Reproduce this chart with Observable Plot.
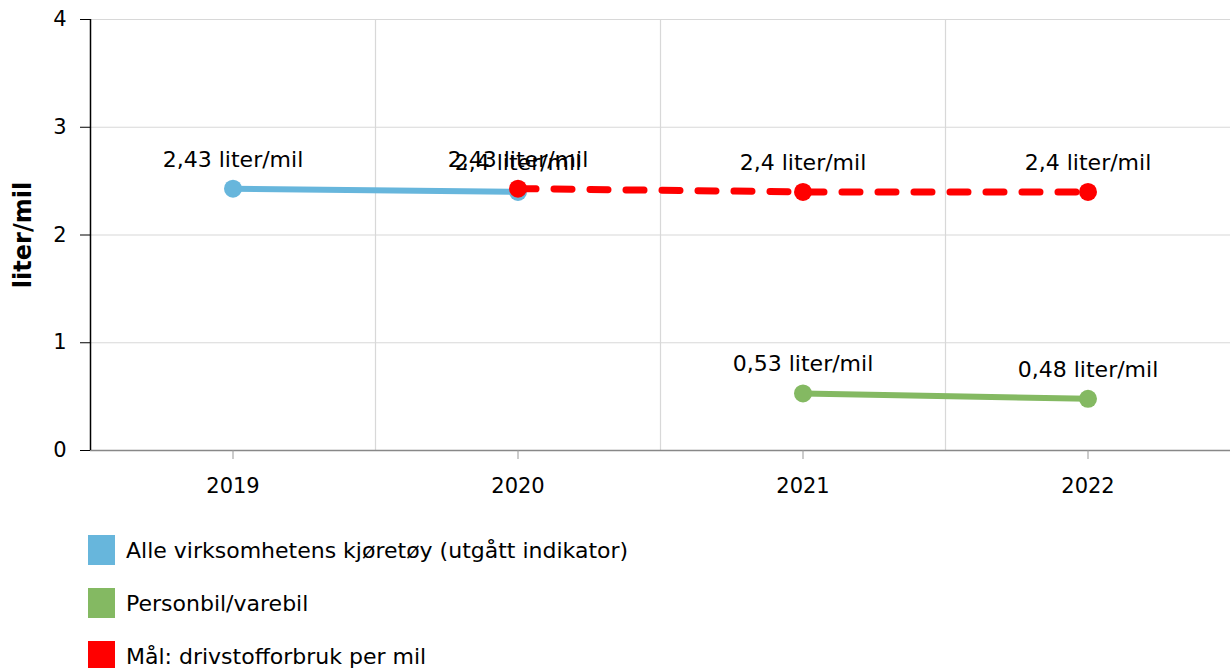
<!DOCTYPE html>
<html>
<head>
<meta charset="utf-8">
<script src="https://cdn.jsdelivr.net/npm/d3@7"></script>
<script src="https://cdn.jsdelivr.net/npm/@observablehq/plot@0.6"></script>
<style>
  body { margin: 0; background: #fff; font-family: "DejaVu Sans", sans-serif; }
  #chart svg { display: block; }
  g[aria-label="y-axis label"] text { font-weight: bold; font-size: 24px; }
  .legend { margin-top: 25px; padding-left: 88px; }
  .legend .item { display: flex; align-items: center; height: 30px; margin-bottom: 23px; font-size: 22px; color: #000; }
  .legend .sw { width: 27px; height: 30px; margin-right: 11px; flex: none; }
</style>
</head>
<body>
<div id="chart"></div>
<div class="legend" id="legend"></div>
<script>
const years = [2019, 2020, 2021, 2022];
const yTicks = [0, 1, 2, 3, 4];
const seriesNames = [
  "Alle virksomhetens kjøretøy (utgått indikator)",
  "Personbil/varebil",
  "Mål: drivstofforbruk per mil"
];
const seriesColors = ["#67b6dc", "#84b962", "#ff0000"];
const blueYears = [2019, 2020];
const blueValues = [2.43, 2.4];
const greenYears = [2021, 2022];
const greenValues = [0.53, 0.48];
const redYears = [2020, 2021, 2022];
const redValues = [2.43, 2.4, 2.4];
const unit = "liter/mil";

const toRows = (ys, vs, s) => ys.map((y, i) => ({year: y, value: vs[i], series: s}));
const blue = toRows(blueYears, blueValues, seriesNames[0]);
const green = toRows(greenYears, greenValues, seriesNames[1]);
const red = toRows(redYears, redValues, seriesNames[2]);
const fmt = d => String(d.value).replace(".", ",") + " " + unit;
const gridX = years.slice(1).map(y => y - 0.5);

const chart = Plot.plot({
  width: 1232,
  height: 510,
  marginTop: 19,
  marginBottom: 60,
  marginLeft: 90,
  marginRight: 2,
  style: {fontFamily: "DejaVu Sans", fontSize: "21px", color: "#000", background: "#fff"},
  x: {domain: [years[0] - 0.5, years[years.length - 1] + 0.5]},
  y: {domain: [yTicks[0], yTicks[yTicks.length - 1]]},
  marks: [
    Plot.gridY(yTicks, {stroke: "#d8d8d8", strokeOpacity: 1, strokeWidth: 1.2}),
    Plot.ruleX(gridX, {stroke: "#d8d8d8", strokeWidth: 1.2}),
    Plot.ruleY([yTicks[0]], {stroke: "#888", strokeWidth: 1.5}),
    Plot.ruleX([years[0] - 0.5], {stroke: "#000", strokeWidth: 1.5}),
    Plot.axisX(years, {tickSize: 9, tickPadding: 19, tickFormat: d => String(d), stroke: "#999", fill: "#000", label: null}),
    Plot.axisY(yTicks, {tickSize: 10, tickPadding: 14, tickFormat: d => String(d), stroke: "#000", fill: "#000", label: unit, labelAnchor: "center", labelOffset: 77, labelArrow: "none"}),
    Plot.line(blue, {x: "year", y: "value", stroke: seriesColors[0], strokeWidth: 6}),
    Plot.dot(blue, {x: "year", y: "value", fill: seriesColors[0], r: 9}),
    Plot.line(green, {x: "year", y: "value", stroke: seriesColors[1], strokeWidth: 6}),
    Plot.dot(green, {x: "year", y: "value", fill: seriesColors[1], r: 9}),
    Plot.line(red, {x: "year", y: "value", stroke: seriesColors[2], strokeWidth: 7, strokeDasharray: "18,18"}),
    Plot.dot(red, {x: "year", y: "value", fill: seriesColors[2], r: 9}),
    Plot.text(blue, {x: "year", y: "value", text: fmt, dy: -29, fontSize: 22, fill: "#000"}),
    Plot.text(green, {x: "year", y: "value", text: fmt, dy: -29, fontSize: 22, fill: "#000"}),
    Plot.text(red, {x: "year", y: "value", text: fmt, dy: -29, fontSize: 22, fill: "#000"})
  ]
});
document.getElementById("chart").appendChild(chart);

const legend = d3.select("#legend");
seriesNames.forEach((name, i) => {
  const item = legend.append("div").attr("class", "item");
  item.append("div").attr("class", "sw").style("background", seriesColors[i]);
  item.append("span").text(name);
});
</script>
</body>
</html>
